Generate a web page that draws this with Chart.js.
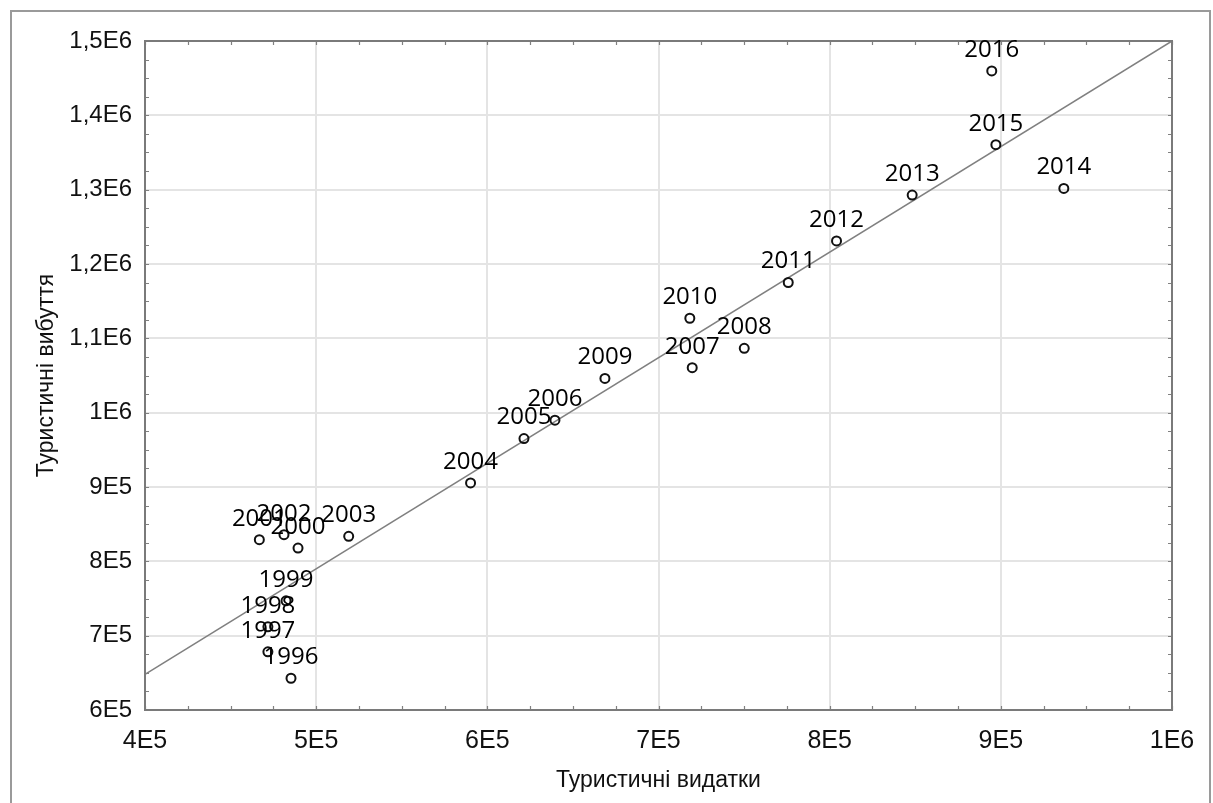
<!DOCTYPE html>
<html>
<head>
<meta charset="utf-8">
<script src="https://cdn.jsdelivr.net/npm/chart.js@4.4.1/dist/chart.umd.min.js"></script>
<style>
  html, body { margin: 0; padding: 0; background: #fff; }
  canvas { display: block; }
</style>
</head>
<body>
<canvas id="c" width="1213" height="803"></canvas>
<script>
const years = [1996, 1997, 1998, 1999, 2000, 2001, 2002, 2003, 2004, 2005, 2006,
               2007, 2008, 2009, 2010, 2011, 2012, 2013, 2014, 2015, 2016];
const spending = [485300, 471800, 471800, 482400, 489400, 466800, 481200, 519000, 590200, 621400, 639500,
                  719700, 750100, 668700, 718300, 775800, 804000, 848200, 936800, 897100, 894700];
const departures = [642700, 678200, 711900, 746900, 817900, 829100, 835800, 833600, 905500, 965200, 989900,
                    1060500, 1086500, 1046100, 1127000, 1175100, 1231100, 1292700, 1301700, 1360500, 1459800];
const trendX = [400000, 1000000];
const trendY = [648000, 1500000];
const xTickLabels = ['4E5', '5E5', '6E5', '7E5', '8E5', '9E5', '1E6'];
const yTickLabels = ['6E5', '7E5', '8E5', '9E5', '1E6', '1,1E6', '1,2E6', '1,3E6', '1,4E6', '1,5E6'];
const xTitle = 'Туристичні видатки';
const yTitle = 'Туристичні вибуття';

const decorPlugin = {
  id: 'decor',
  beforeDraw(chart) {
    const ctx = chart.ctx;
    ctx.save();
    ctx.fillStyle = '#fff';
    ctx.fillRect(0, 0, chart.width, chart.height);
    ctx.strokeStyle = '#9a9a9a';
    ctx.lineWidth = 2;
    ctx.strokeRect(11, 11, 1199, 800);
    ctx.restore();
  },
  afterDatasetsDraw(chart) {
    const ctx = chart.ctx;
    const a = chart.chartArea;
    const xs = chart.scales.x, ys = chart.scales.y;
    ctx.save();
    // minor ticks
    ctx.strokeStyle = '#808080';
    ctx.lineWidth = 1.2;
    ctx.beginPath();
    for (let v = xs.min; v <= xs.max + 1; v += 25000) {
      const px = Math.round(xs.getPixelForValue(v)) + 0.5;
      ctx.moveTo(px, a.bottom); ctx.lineTo(px, a.bottom - 4);
      ctx.moveTo(px, a.top); ctx.lineTo(px, a.top + 4);
    }
    for (let v = ys.min; v <= ys.max + 1; v += 25000) {
      const py = Math.round(ys.getPixelForValue(v)) + 0.5;
      ctx.moveTo(a.left, py); ctx.lineTo(a.left + 4, py);
      ctx.moveTo(a.right, py); ctx.lineTo(a.right - 4, py);
    }
    ctx.stroke();
    // plot frame
    ctx.strokeStyle = '#7a7a7a';
    ctx.lineWidth = 2;
    ctx.strokeRect(a.left, a.top, a.right - a.left, a.bottom - a.top);
    // point labels
    const meta = chart.getDatasetMeta(0);
    ctx.fillStyle = '#000';
    ctx.font = '24px "Open Sans", "Noto Sans", sans-serif';
    ctx.textAlign = 'center';
    ctx.textBaseline = 'middle';
    meta.data.forEach((el, i) => {
      ctx.fillText(String(years[i]), el.x, el.y - 21);
    });
    ctx.restore();
  }
};

new Chart(document.getElementById('c'), {
  data: {
    datasets: [
      {
        type: 'scatter',
        order: 1,
        data: years.map((yr, i) => ({ x: spending[i], y: departures[i] })),
        pointRadius: 4.5,
        pointBorderWidth: 2,
        pointBorderColor: '#111',
        pointBackgroundColor: 'rgba(255,255,255,0)',
        showLine: false
      },
      {
        type: 'line',
        order: 2,
        data: trendX.map((x, i) => ({ x: x, y: trendY[i] })),
        borderColor: '#808080',
        borderWidth: 1.5,
        pointRadius: 0,
        fill: false,
        tension: 0
      }
    ]
  },
  options: {
    responsive: false,
    animation: false,
    events: [],
    layout: { padding: { left: 0, right: 41, top: 41, bottom: 0 } },
    plugins: { legend: { display: false }, tooltip: { enabled: false } },
    scales: {
      x: {
        type: 'linear',
        min: 400000, max: 1000000,
        afterFit(s) { s.height = 93; },
        ticks: {
          stepSize: 100000,
          padding: 16,
          color: '#111',
          font: { family: '"Liberation Sans", Arial, sans-serif', size: 25 },
          maxRotation: 0,
          callback: (v, i) => xTickLabels[i]
        },
        grid: { color: '#e4e4e4', lineWidth: 2, drawTicks: false },
        border: { display: false },
        title: {
          display: true,
          text: xTitle,
          color: '#111',
          font: { family: '"Liberation Sans", Arial, sans-serif', size: 23 },
          padding: { top: 0, bottom: 9 }
        }
      },
      y: {
        type: 'linear',
        min: 600000, max: 1500000,
        afterFit(s) { s.width = 145; },
        ticks: {
          stepSize: 100000,
          padding: 13,
          color: '#111',
          font: { family: '"Liberation Sans", Arial, sans-serif', size: 24 },
          callback: (v, i) => yTickLabels[i]
        },
        grid: { color: '#e4e4e4', lineWidth: 2, drawTicks: false },
        border: { display: false },
        title: {
          display: true,
          text: yTitle,
          color: '#111',
          font: { family: '"Liberation Sans", Arial, sans-serif', size: 23 },
          padding: { top: 33, bottom: 0 }
        }
      }
    }
  },
  plugins: [decorPlugin]
});
</script>
</body>
</html>
